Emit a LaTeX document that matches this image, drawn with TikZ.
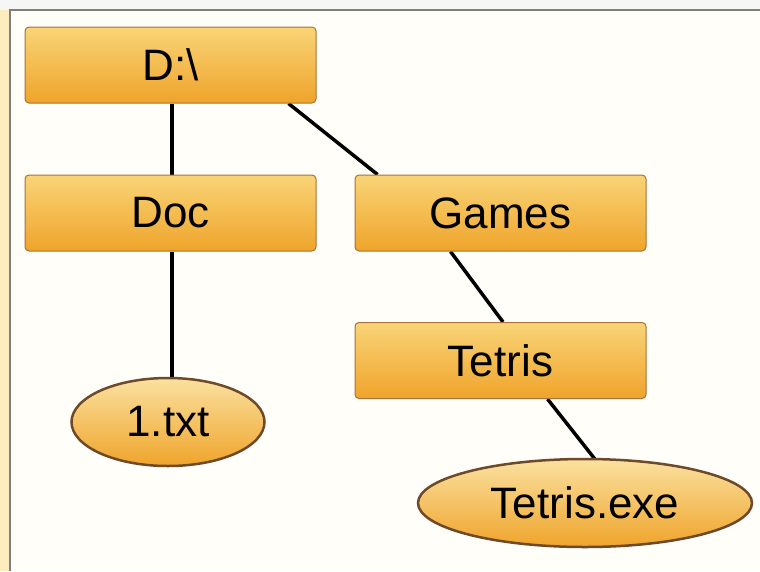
\documentclass[tikz,border=0pt]{standalone}
\usepackage{fontspec}
\setmainfont{Liberation Sans}
\usetikzlibrary{shapes.geometric,backgrounds}
\definecolor{boxtop}{HTML}{F9D477}
\definecolor{boxbot}{HTML}{EFA42B}
\definecolor{boxedge}{HTML}{A87238}
\definecolor{elledge}{HTML}{6E4A2A}
\definecolor{paper}{HTML}{FFFEF8}
\definecolor{stripL}{HTML}{FDEDBE}
\definecolor{stripT}{HTML}{F6F6F4}
\definecolor{frame}{HTML}{7E7E7E}
\tikzset{
  folder/.style={rectangle, rounded corners=4pt, draw=boxedge, line width=1pt,
    top color=boxtop, bottom color=boxbot, minimum width=291pt, minimum height=76pt,
    font=\fontsize{44}{50}\selectfont, inner sep=0pt},
  fileell/.style={ellipse, draw=elledge, line width=2.5pt,
    top color=boxtop!70!white, bottom color=boxbot, inner sep=0pt,
    font=\fontsize{44}{50}\selectfont},
  link/.style={line width=3.5pt, black}
}
\begin{document}
\begin{tikzpicture}[x=1pt,y=-1pt]
\useasboundingbox (0,0) rectangle (760,571);

\node[folder] (root) at (170.5,65) {D:\textbackslash};
\node[folder] (doc) at (170.5,213) {Doc};
\node[folder] (games) at (500.5,213) {Games};
\node[folder] (tetris) at (500.5,360.5) {Tetris};
\node[fileell, minimum width=193pt, minimum height=88pt] (txt) at (168,422) {1.txt};
\node[fileell, minimum width=334pt, minimum height=88pt] (exe) at (585,503) {Tetris.exe};

\begin{pgfonlayer}{background}
\fill[stripT] (0,0) rectangle (760,10);
\fill[stripL] (0,10) rectangle (10,571);
\fill[paper] (10,10) rectangle (760,571);
\draw[frame, line width=1.5pt] (10,571) -- (10,10) -- (760,10);
\draw[link] ([xshift=1.5pt]root.south) -- ([xshift=1.5pt]doc.north);
\draw[link] ([xshift=-28pt]root.south east) -- ([xshift=23pt]games.north west);
\draw[link] ([xshift=1.5pt]doc.south) -- ([xshift=4pt,yshift=-3pt]txt.north);
\draw[link] ([xshift=-50pt]games.south) -- ([xshift=2.5pt]tetris.north);
\draw[link] ([xshift=47pt]tetris.south) -- ([xshift=12pt,yshift=-4pt]exe.north);
\end{pgfonlayer}
\end{tikzpicture}
\end{document}
